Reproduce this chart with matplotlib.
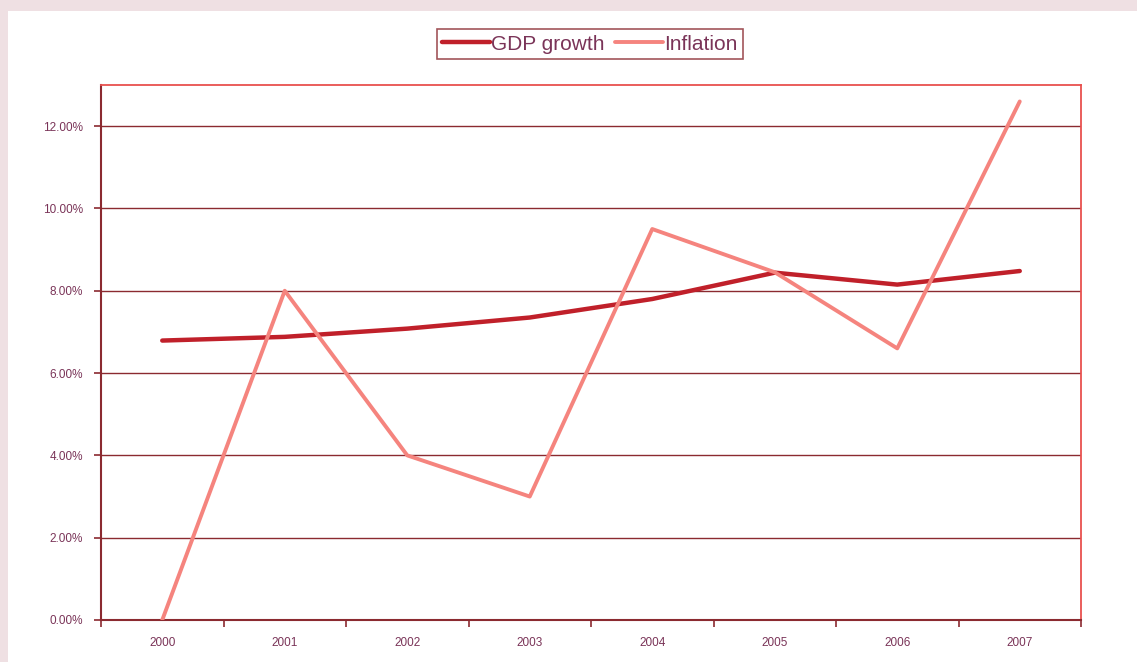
import numpy as np
import matplotlib.pyplot as plt
from matplotlib.patches import Rectangle
from matplotlib.ticker import FixedLocator, PercentFormatter

plt.rcParams['font.family'] = ['Liberation Sans', 'DejaVu Sans']

years = ['2000', '2001', '2002', '2003', '2004', '2005', '2006', '2007']
gdp_growth = [6.79, 6.88, 7.08, 7.35, 7.80, 8.44, 8.15, 8.48]
inflation = [0.0, 8.0, 4.0, 3.0, 9.5, 8.45, 6.6, 12.6]

dark = '#8b2a30'
label_col = '#7a3458'

fig = plt.figure(figsize=(11.37, 6.62), dpi=100)
fig.patch.set_facecolor('#efe0e3')

# white panel behind the chart
fig.add_artist(Rectangle((8 / 1137, 0), 1, 1 - 11 / 662, transform=fig.transFigure,
                         facecolor='white', edgecolor='none', zorder=-1))

ax = fig.add_axes([101 / 1137, 42 / 662, 980 / 1137, 535 / 662], zorder=1)
ax.set_facecolor('white')
x = np.arange(len(years))
ax.plot(x, gdp_growth, color='#c0202a', lw=3.2, label='GDP growth', solid_capstyle='round', zorder=3)
ax.plot(x, inflation, color='#f5847e', lw=2.8, label='Inflation', solid_capstyle='round', zorder=4)

ax.set_xlim(-0.5, len(years) - 0.5)
ax.set_ylim(0, 13)
ax.set_yticks(np.arange(0, 13, 2))
ax.yaxis.set_major_formatter(PercentFormatter(decimals=2))
for v in range(2, 13, 2):
    ax.axhline(v, color=dark, lw=1.0, zorder=1)

ax.set_xticks(x)
ax.set_xticklabels(years)
ax.xaxis.set_minor_locator(FixedLocator(np.arange(-0.5, len(years), 1)))
ax.tick_params(axis='x', which='major', length=0, pad=12, labelsize=8.5, labelcolor=label_col)
ax.tick_params(axis='x', which='minor', length=5, width=1.2, color=dark, direction='out')
ax.tick_params(axis='y', length=5, width=1.2, color=dark, labelsize=8.5, labelcolor=label_col, pad=8)

ax.spines['left'].set_color(dark)
ax.spines['bottom'].set_color(dark)
ax.spines['left'].set_linewidth(1.5)
ax.spines['bottom'].set_linewidth(1.5)
ax.spines['top'].set_color('#e8504e')
ax.spines['right'].set_color('#e8504e')
ax.spines['top'].set_linewidth(1.3)
ax.spines['right'].set_linewidth(1.3)

leg = ax.legend(loc='center', bbox_to_anchor=(590 / 1137, 1 - 44 / 662),
                bbox_transform=fig.transFigure, ncol=2, frameon=True,
                fancybox=False, edgecolor=dark, fontsize=15, handlelength=2.3,
                handletextpad=0.05, columnspacing=0.5, borderpad=0.25, borderaxespad=0)
leg.get_frame().set_linewidth(1.2)
for t in leg.get_texts():
    t.set_color(label_col)

fig.savefig('out.png', dpi=100, facecolor=fig.get_facecolor())
